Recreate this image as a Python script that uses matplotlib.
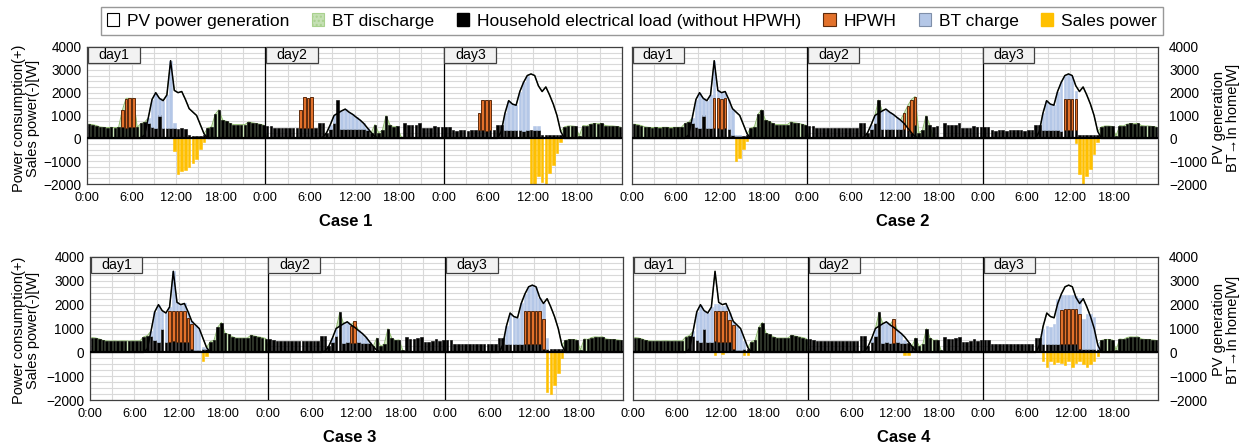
import numpy as np
import matplotlib
matplotlib.use('Agg')
import matplotlib.pyplot as plt
from matplotlib.patches import Patch, Rectangle
from matplotlib.ticker import MultipleLocator

plt.rcParams['font.family'] = ['Liberation Sans', 'DejaVu Sans']

# 30 min steps, 48 per day, day1..day3  [W]
# household load (without HPWH), same in every case
load = [620,600,560,500,480,470,480,470,480,480,470,480, 480,480,650,700,690,500,450,1000,450,440,460,450,
        430,450,420,130,100,100,120,150,450,500,1050,1250, 800,750,650,600,600,600,600,720,680,650,620,580,
        540,520,470,470,460,470,470,460,470,470,470,460, 470,470,690,690,250,420,690,1680,400,420,400,400,
        420,400,400,380,250,600,250,350,990,600,500,520, 80,650,580,580,600,660,450,450,460,540,480,500,
        500,500,360,340,350,350,340,350,360,350,350,340, 350,350,590,590,350,350,360,350,350,340,350,360,
        350,350,150,150,150,140,150,150,500,540,540,520, 100,560,540,620,650,640,650,560,540,540,520,500]

# PV generation, same in every case
pv = [0,0,0,0,0,0,0,0,0,0,0,0, 0,0,0,150,900,1700,2000,1750,1650,1900,3400,2100,
      2000,2050,1700,1300,1150,1000,600,200,0,0,0,0, 0,0,0,0,0,0,0,0,0,0,0,0,
      0,0,0,0,0,0,0,0,0,0,0,0, 0,0,0,50,250,600,1000,1100,1200,1280,1150,1050,
      920,800,650,450,250,80,0,0,0,0,0,0, 0,0,0,0,0,0,0,0,0,0,0,0,
      0,0,0,0,0,0,0,0,0,0,0,0, 0,0,0,300,1100,1650,1500,1450,2050,2450,2750,2820,
      2750,2300,2050,2250,1900,1500,1000,300,0,0,0,0, 0,0,0,0,0,0,0,0,0,0,0,0]

# BT discharge shared by all cases on day1 (case1 differs) and day3
discharge_day1 = [620,600,560,500,480,470,480,470,480,480,470,480, 480,480,650,550,0,0,0,0,0,0,0,0,
                  0,0,0,0,0,0,0,0,450,500,1050,1250, 800,750,650,600,600,600,600,720,680,650,620,580]
discharge_day3 = [0,0,0,0,0,0,0,0,0,0,0,0, 0,0,0,0,0,0,0,0,0,0,0,0,
                  0,0,0,0,0,0,0,0,500,540,540,520, 100,560,540,620,650,640,650,560,540,540,520,500]

# ---------------- Case 1
case1_hpwh = ([0,0,0,0,0,0,0,0,0,750,1270,1270, 1270,0,0,0,0,0,0,0,0,0,0,0,
               0,0,0,0,0,0,0,0,0,0,0,0, 0,0,0,0,0,0,0,0,0,0,0,0]
            + [0,0,0,0,0,0,0,0,0,760,1320,1320, 1320,0,0,0,0,0,0,0,0,0,0,0,
               0,0,0,0,0,0,0,0,0,0,0,0, 0,0,0,0,0,0,0,0,0,0,0,0]
            + [0,0,0,0,0,0,0,0,0,780,1340,1340, 1340,0,0,0,0,0,0,0,0,0,0,0,
               0,0,0,0,0,0,0,0,0,0,0,0, 0,0,0,0,0,0,0,0,0,0,0,0])
case1_charge = ([0,0,0,0,0,0,0,0,0,0,0,0, 0,0,0,0,210,1200,1550,750,1200,1460,2940,200,
                 0,0,0,0,0,0,0,0,0,0,0,0, 0,0,0,0,0,0,0,0,0,0,0,0]
              + [0,0,0,0,0,0,0,0,0,0,0,0, 0,0,0,0,0,180,310,0,800,860,750,650,
                 500,400,250,70,0,0,0,0,0,0,0,0, 0,0,0,0,0,0,0,0,0,0,0,0]
              + [0,0,0,0,0,0,0,0,0,0,0,0, 0,0,0,0,750,1300,1140,1100,1700,2110,2400,0,
                 200,200,0,0,0,0,0,0,0,0,0,0, 0,0,0,0,0,0,0,0,0,0,0,0])
case1_sales = ([0,0,0,0,0,0,0,0,0,0,0,0, 0,0,0,0,0,0,0,0,0,0,0,-560,
                -1580,-1450,-1390,-1250,-1070,-890,-480,-160,0,0,0,0, 0,0,0,0,0,0,0,0,0,0,0,0]
             + [0,0,0,0,0,0,0,0,0,0,0,0, 0,0,0,0,0,0,0,0,0,0,0,0,
                0,0,0,0,0,0,0,0,0,0,0,0, 0,0,0,0,0,0,0,0,0,0,0,0]
             + [0,0,0,0,0,0,0,0,0,0,0,0, 0,0,0,0,0,0,0,0,0,0,0,-2000,
                -2000,-1650,-1900,-2000,-1500,-1150,-650,-150,0,0,0,0, 0,0,0,0,0,0,0,0,0,0,0,0])
case1_discharge = ([620,600,560,500,480,470,480,470,480,1230,1750,1750, 1750,480,650,550,0,0,0,0,0,0,0,0,
                    0,0,0,0,0,0,0,0,450,500,1050,1250, 800,750,650,600,600,600,600,720,680,650,620,580]
                 + [0,0,0,0,0,0,0,0,0,0,0,0, 0,0,0,0,0,0,0,0,0,0,0,0,
                    0,0,0,0,0,520,250,350,990,600,500,520, 80,0,0,0,0,0,0,0,0,0,0,0]
                 + discharge_day3)

# ---------------- Case 2
case2_hpwh = ([0,0,0,0,0,0,0,0,0,0,0,0, 0,0,0,0,0,0,0,0,0,0,1290,1300,
               1310,1300,0,0,0,0,0,0,0,0,0,0, 0,0,0,0,0,0,0,0,0,0,0,0]
            + [0,0,0,0,0,0,0,0,0,0,0,0, 0,0,0,0,0,0,0,0,0,0,0,0,
               0,0,700,1050,1450,1230,0,0,0,0,0,0, 0,0,0,0,0,0,0,0,0,0,0,0]
            + [0,0,0,0,0,0,0,0,0,0,0,0, 0,0,0,0,0,0,0,0,0,0,1390,1380,
               1390,1390,0,0,0,0,0,0,0,0,0,0, 0,0,0,0,0,0,0,0,0,0,0,0])
case2_charge = ([0,0,0,0,0,0,0,0,0,0,0,0, 0,0,0,0,210,1200,1550,750,1200,1460,1650,350,
                 270,300,1250,1150,50,50,0,0,0,0,0,0, 0,0,0,0,0,0,0,0,0,0,0,0]
              + [0,0,0,0,0,0,0,0,0,0,0,0, 0,0,0,0,0,180,310,0,800,860,750,650,
                 500,400,0,0,0,0,0,0,0,0,0,0, 0,0,0,0,0,0,0,0,0,0,0,0]
              + [0,0,0,0,0,0,0,0,0,0,0,0, 0,0,0,0,750,1300,1140,1100,1700,2110,1010,1080,
                 1010,340,0,0,0,0,0,0,0,0,0,0, 0,0,0,0,0,0,0,0,0,0,0,0])
case2_sales = ([0,0,0,0,0,0,0,0,0,0,0,0, 0,0,0,0,0,0,0,0,0,0,0,0,
                0,0,0,0,-1000,-850,-480,-120,0,0,0,0, 0,0,0,0,0,0,0,0,0,0,0,0]
             + [0,0,0,0,0,0,0,0,0,0,0,0, 0,0,0,0,0,0,0,0,0,0,0,0,
                0,0,0,0,0,0,0,0,0,0,0,0, 0,0,0,0,0,0,0,0,0,0,0,0]
             + [0,0,0,0,0,0,0,0,0,0,0,0, 0,0,0,0,0,0,0,0,0,0,0,0,
                0,-220,-1580,-2000,-1650,-1350,-700,-150,0,0,0,0, 0,0,0,0,0,0,0,0,0,0,0,0])
case2_discharge = (discharge_day1
                 + [0,0,0,0,0,0,0,0,0,0,0,0, 0,0,0,0,0,0,0,580,0,0,0,0,
                    0,0,450,980,1450,1750,250,350,990,600,0,0, 0,0,0,0,0,0,0,0,0,0,0,0]
                 + discharge_day3)

# ---------------- Case 3
case3_hpwh = ([0,0,0,0,0,0,0,0,0,0,0,0, 0,0,0,0,0,0,0,0,0,1290,1280,1290,
               1310,1290,1000,1050,0,0,0,0,0,0,0,0, 0,0,0,0,0,0,0,0,0,0,0,0]
            + [0,0,0,0,0,0,0,0,0,0,0,0, 0,0,0,0,0,0,0,0,0,0,700,900,
               0,0,0,0,0,0,0,0,0,0,0,0, 0,0,0,0,0,0,0,0,0,0,0,0]
            + [0,0,0,0,0,0,0,0,0,0,0,0, 0,0,0,0,0,0,0,0,0,1390,1390,1380,
               1390,1390,1250,0,0,0,0,0,0,0,0,0, 0,0,0,0,0,0,0,0,0,0,0,0])
case3_charge = ([0,0,0,0,0,0,0,0,0,0,0,0, 0,0,0,0,210,1200,1550,750,1200,170,1660,360,
                 260,310,280,120,1050,900,120,50,0,0,0,0, 0,0,0,0,0,0,0,0,0,0,0,0]
              + [0,0,0,0,0,0,0,0,0,0,0,0, 0,0,0,0,0,180,310,0,800,860,50,0,
                 500,400,250,70,0,0,0,0,0,0,0,0, 0,0,0,0,0,0,0,0,0,0,0,0]
              + [0,0,0,0,0,0,0,0,0,0,0,0, 0,0,0,0,750,1300,1140,1100,1700,720,1010,1080,
                 1010,560,650,450,0,0,0,0,0,0,0,0, 0,0,0,0,0,0,0,0,0,0,0,0])
case3_sales = ([0,0,0,0,0,0,0,0,0,0,0,0, 0,0,0,0,0,0,0,0,0,0,0,0,
                0,0,0,0,0,0,-360,-150,0,0,0,0, 0,0,0,0,0,0,0,0,0,0,0,0]
             + [0,0,0,0,0,0,0,0,0,0,0,0, 0,0,0,0,0,0,0,0,0,0,0,0,
                0,0,0,0,0,0,0,0,0,0,0,0, 0,0,0,0,0,0,0,0,0,0,0,0]
             + [0,0,0,0,0,0,0,0,0,0,0,0, 0,0,0,0,0,0,0,0,0,0,0,0,
                0,0,0,-1650,-1750,-1350,-850,-250,0,0,0,0, 0,0,0,0,0,0,0,0,0,0,0,0])
case3_discharge = (discharge_day1
                 + [0,0,0,0,0,0,0,0,0,0,0,0, 0,0,0,0,0,0,0,580,0,0,0,250,
                    0,0,0,0,0,520,250,350,990,600,500,520, 80,0,0,0,0,0,0,0,0,0,0,0]
                 + discharge_day3)

# ---------------- Case 4
case4_hpwh = ([0,0,0,0,0,0,0,0,0,0,0,0, 0,0,0,0,0,0,0,0,0,0,1280,1290,
               1310,1290,950,1000,0,0,0,0,0,0,0,0, 0,0,0,0,0,0,0,0,0,0,0,0]
            + [0,0,0,0,0,0,0,0,0,0,0,0, 0,0,0,0,0,0,0,0,0,0,0,990,
               0,0,0,0,0,0,0,0,0,0,0,0, 0,0,0,0,0,0,0,0,0,0,0,0]
            + [0,0,0,0,0,0,0,0,0,0,0,0, 0,0,0,0,0,0,0,0,0,1450,1450,1450,
               1450,1450,1450,0,0,0,0,0,0,0,0,0, 0,0,0,0,0,0,0,0,0,0,0,0])
case4_charge = ([0,0,0,0,0,0,0,0,0,0,0,0, 0,0,0,0,210,1200,1550,750,1200,1460,300,300,
                 200,250,300,150,1000,850,350,0,0,0,0,0, 0,0,0,0,0,0,0,0,0,0,0,0]
              + [0,0,0,0,0,0,0,0,0,0,0,0, 0,0,0,0,0,180,310,0,800,860,750,0,
                 500,400,120,0,0,0,0,0,0,0,0,0, 0,0,0,0,0,0,0,0,0,0,0,0]
              + [0,0,0,0,0,0,0,0,0,0,0,0, 0,0,0,0,650,750,690,850,1900,610,600,590,
                 600,550,700,1250,1450,1460,1350,250,0,0,0,0, 0,0,0,0,0,0,0,0,0,0,0,0])
case4_sales = ([0,0,0,0,0,0,0,0,0,0,0,0, 0,0,0,0,0,0,0,0,0,0,-130,0,
                -80,0,0,0,0,0,-130,-130,0,0,0,0, 0,0,0,0,0,0,0,0,0,0,0,0]
             + [0,0,0,0,0,0,0,0,0,0,0,0, 0,0,0,0,0,0,0,0,0,0,0,0,
                0,0,-130,-100,0,0,0,0,0,0,0,0, 0,0,0,0,0,0,0,0,0,0,0,0]
             + [0,0,0,0,0,0,0,0,0,0,0,0, 0,0,0,0,-350,-600,-350,-500,-400,-450,-550,-350,
                -600,-450,-350,-500,-600,-500,-350,-150,0,0,0,0, 0,0,0,0,0,0,0,0,0,0,0,0])
case4_discharge = (discharge_day1
                 + [0,0,0,0,0,0,0,0,0,0,0,0, 0,0,0,0,0,0,0,580,0,0,0,340,
                    0,0,0,0,0,520,250,350,990,600,500,520, 80,0,0,0,0,0,0,0,0,0,0,0]
                 + discharge_day3)

case_names = ['Case 1', 'Case 2', 'Case 3', 'Case 4']
case_data = [(case1_hpwh, case1_charge, case1_sales, case1_discharge),
             (case2_hpwh, case2_charge, case2_sales, case2_discharge),
             (case3_hpwh, case3_charge, case3_sales, case3_discharge),
             (case4_hpwh, case4_charge, case4_sales, case4_discharge)]
day_names = ['day1', 'day2', 'day3']
time_labels = ['0:00', '6:00', '12:00', '18:00'] * 3

legend_labels = ['PV power generation', 'BT discharge', 'Household electrical load (without HPWH)',
                 'HPWH', 'BT charge', 'Sales power']

# colours
c_load = 'black'
c_hpwh = '#E2712B'
c_hpwh_edge = '#5C2A0C'
c_charge = '#B4C7E7'
c_dis = '#C5E0B4'
c_dis_line = '#8DB86B'
c_sales = '#FFC000'
c_grid = '#D9D9D9'

W, H = 1245, 447
# plot area boxes in pixels: left, top, right, bottom
boxes = [(87, 47, 622, 184), (632, 47, 1158, 184), (90, 257, 623, 400), (633, 257, 1158, 400)]
case_pos = [(346, 222), (903, 222), (350, 437), (904, 437)]

fig = plt.figure(figsize=(W / 100, H / 100), dpi=100)

x = np.arange(len(load)) + 0.5
ld = np.array(load, dtype=float)
pvv = np.array(pv, dtype=float)
bw = 0.7

for k, (hpwh, charge, sales, dis) in enumerate(case_data):
    l, t, r, b = boxes[k]
    ax = fig.add_axes([l / W, 1 - b / H, (r - l) / W, (b - t) / H])
    hp = np.array(hpwh, dtype=float)
    ch = np.array(charge, dtype=float)
    sa = np.array(sales, dtype=float)
    ds = np.array(dis, dtype=float)

    # PV area (white) and BT discharge area on top of it
    ax.fill_between(x, 0, pvv, color='white', lw=0, zorder=1.2)
    ax.fill_between(x, pvv, pvv + ds, color=c_dis, lw=0, zorder=1.3)
    ax.plot(x, pvv + ds, color=c_dis_line, lw=0.7, zorder=1.35)

    # stacked bars
    ax.bar(x, ld, width=bw, color=c_load, edgecolor=c_load, lw=0.4, zorder=2)
    m = hp > 0
    ax.bar(x[m], hp[m], bottom=ld[m], width=bw, color=c_hpwh, edgecolor=c_hpwh_edge, lw=0.7, zorder=2.1)
    m = ch > 0
    ax.bar(x[m], ch[m], bottom=ld[m] + hp[m], width=bw, color=c_charge, edgecolor=c_charge, lw=0.4, zorder=2.05)
    m = sa < 0
    ax.bar(x[m], sa[m], width=bw, color=c_sales, edgecolor=c_sales, lw=0.4, zorder=2.1)

    ax.plot(x, pvv, color='black', lw=1.1, zorder=3)
    ax.axhline(0, color='black', lw=1.6, zorder=3.5)
    for d in (48, 96):
        ax.axvline(d, color='black', lw=0.9, zorder=3.5)

    ax.set_xlim(0, 144)
    ax.set_ylim(-2000, 4000)
    ax.set_xticks(np.arange(0, 144, 12))
    ax.set_xticklabels(time_labels)
    ax.xaxis.set_minor_locator(MultipleLocator(6))
    ax.yaxis.set_major_locator(MultipleLocator(1000))
    ax.yaxis.set_minor_locator(MultipleLocator(250))
    ax.grid(which='both', color=c_grid, lw=0.8)
    ax.set_axisbelow(True)
    ax.tick_params(which='both', length=0)
    ax.tick_params(axis='x', labelsize=9.2, pad=6)
    ax.tick_params(axis='y', labelsize=9.8, pad=4)
    if k in (1, 3):
        ax.yaxis.tick_right()
        ax.tick_params(axis='y', labelleft=False, labelright=True, pad=8)
    for s in ax.spines.values():
        s.set_color('#404040')
        s.set_linewidth(0.9)

    # day boxes
    box_h = 16 / (b - t)
    for d, name in enumerate(day_names):
        ax.add_patch(Rectangle((d * 48 + 0.15, 1 - box_h), 14.0, box_h, transform=ax.get_xaxis_transform(),
                               facecolor='#F2F2F2', edgecolor='#404040', lw=0.9, zorder=5, clip_on=False))
        ax.text(d * 48 + 7.2, 1 - box_h / 2, name, transform=ax.get_xaxis_transform(),
                ha='center', va='center', fontsize=10.2, zorder=6)

    cx, cy = case_pos[k]
    fig.text(cx / W, 1 - cy / H, case_names[k], ha='center', va='center', fontsize=12, fontweight='bold')

# axis titles
for yc in (118, 330):
    fig.text(26 / W, 1 - yc / H, 'Power consumption(+)\nSales power(-)[W]', rotation=90,
             ha='center', va='center', fontsize=10.5, linespacing=1.05, multialignment='center')
    fig.text(1226 / W, 1 - yc / H, 'PV generation\nBT\u2192In home[W]', rotation=90,
             ha='center', va='center', fontsize=10.5, linespacing=1.05, multialignment='center')

handles = [Patch(facecolor='white', edgecolor='black', lw=0.8),
           Patch(facecolor=c_dis, edgecolor='#A9D18E', lw=0.8, hatch='....'),
           Patch(facecolor='black', edgecolor='black'),
           Patch(facecolor=c_hpwh, edgecolor=c_hpwh_edge, lw=0.8),
           Patch(facecolor=c_charge, edgecolor='#7F8FA9', lw=0.8),
           Patch(facecolor=c_sales, edgecolor=c_sales)]
leg = fig.legend(handles, legend_labels, loc='center', bbox_to_anchor=(632 / W, 1 - 21 / H), ncol=6,
                 fontsize=12.5, frameon=True, fancybox=False, edgecolor='#7F7F7F',
                 handlelength=0.7, handleheight=0.7, handletextpad=0.45, columnspacing=1.3, borderpad=0.35)
leg.get_frame().set_linewidth(1.0)

fig.savefig('out.png', dpi=100)
